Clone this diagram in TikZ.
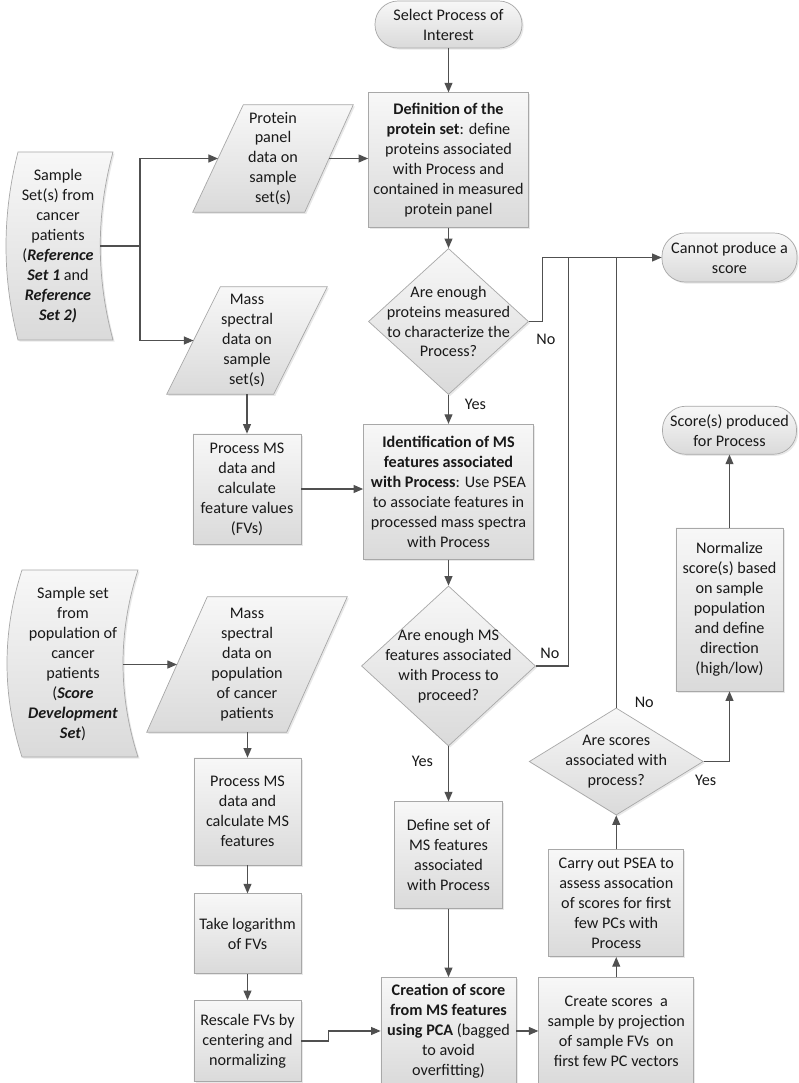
\documentclass[tikz,border=0pt]{standalone}
\usepackage{fontspec}
\setmainfont{Carlito}
\usepackage{xcolor}
\usepackage{tikz}
\usetikzlibrary{positioning,shapes.geometric,arrows.meta,calc,shadows,backgrounds}
\definecolor{trazo}{HTML}{505050}
\definecolor{borde}{HTML}{A8A8A8}
\definecolor{relleno}{HTML}{DADADA}
\tikzset{
  letra/.style    = {font=\fontsize{11.5}{14.2}\selectfont, text=black!90},
  forma/.style    = {draw=borde, line width=0.5pt, top color=black!3, bottom color=relleno,
                     drop shadow={shadow xshift=0.4mm, shadow yshift=-0.4mm, opacity=0.18}},
  bloque/.style   = {forma, letra, rectangle, align=center, inner sep=1pt,
                     minimum width=2.675cm, minimum height=2.675cm},
  terminal/.style = {forma, letra, rectangle, rounded corners=0.58cm, align=center, inner sep=1pt},
  decision/.style = {forma, diamond, inner sep=0pt},
  texto/.style    = {letra, align=center, inner sep=0pt},
  etiqueta/.style = {letra, inner sep=1pt},
  flecha/.style   = {draw=trazo, line width=0.8pt, -{Triangle[length=2.4mm, width=2mm]}},
  linea/.style    = {draw=trazo, line width=0.8pt}
}
\begin{document}
\begin{tikzpicture}[x=0.025cm, y=-0.025cm]
    \begin{scope}[on background layer]
      \fill[white] (0,0) rectangle (799,1083);
    \end{scope}
    \useasboundingbox (0,0) rectangle (799,1083);

    \node[terminal, minimum width=3.675cm, minimum height=1.175cm] (inicio) at (448.5,24.5) {Select Process of\\Interest};
    \node[bloque, minimum width=4cm, minimum height=3.375cm, below=1.1cm of inicio] (defprot) {\textbf{Definition of the}\\\textbf{protein set}: define\\proteins associated\\with Process and\\contained in measured\\protein panel};
    \node[decision, minimum width=4cm, minimum height=3.65cm, below=0.5cm of defprot] (dec1) {};
    \node[texto] (dec1t) at (dec1) {Are enough\\proteins measured\\to characterize the\\Process?};
    \node[bloque, minimum width=4.25cm, minimum height=3.375cm, below=0.725cm of dec1] (identms) {\textbf{Identification of MS}\\\textbf{features associated}\\\textbf{with Process}: Use PSEA\\to associate features in\\processed mass spectra\\with Process};
    \node[decision, minimum width=4.35cm, minimum height=4cm, below=0.65cm of identms] (dec2) {};
    \node[texto] (dec2t) at (dec2) {Are enough MS\\features associated\\with Process to\\proceed?};
    \node[bloque, minimum width=2.7cm, below=1.375cm of dec2] (defms) {Define set of\\MS features\\associated\\with Process};
    \node[bloque, minimum width=3.375cm, below=1.7cm of defms] (crea) {\textbf{Creation of score}\\\textbf{from MS features}\\\textbf{using PCA} (bagged\\to avoid\\overfitting)};
    \node[bloque, minimum width=3.875cm, right=0.55cm of crea] (proy) {Create scores~ a\\sample by projection\\of sample FVs~ on\\first few PC vectors};
    \node[bloque, minimum width=3.375cm, above=0.5cm of proy] (psea) {Carry out PSEA to\\assess assocation\\of scores for first\\few PCs with\\Process};
    \node[decision, minimum width=4.35cm, minimum height=2.675cm, above=0.85cm of psea] (dec3) {};
    \node[texto] (dec3t) at (dec3) {Are scores\\associated with\\process?};
    \node[bloque, minimum height=4.075cm] (normsc) at (729.5,609.5) {Normalize\\score(s) based\\on sample\\population\\and define\\direction\\(high/low)};
    \node[terminal, minimum width=3.35cm, minimum height=1.2cm, above=1.825cm of normsc] (produced) {Score(s) produced\\for Process};
    \node[terminal, minimum width=3.375cm, minimum height=1.225cm] (noscore) at (729.5,257.5) {Cannot produce a\\score};

    \node[texto] (muestras1) at (58,246) {Sample\\Set(s) from\\cancer\\patients\\(\textbf{\textit{Reference}}\\\textbf{\textit{Set 1}} and\\\textbf{\textit{Reference}}\\\textbf{\textit{Set 2)}}};
    \coordinate (salida1) at (100,246);
    \coordinate (rama1) at (140,246);
    \node[texto, minimum width=4cm, minimum height=2.675cm] (protdata) at (273,158.5) {Protein\\panel\\data on\\sample\\set(s)};
    \node[texto, minimum width=4cm, minimum height=2.675cm] (msdata) at (247,340.5) {Mass\\spectral\\data on\\sample\\set(s)};
    \node[bloque, minimum width=2.7cm, minimum height=2.75cm] (procms) at (247,489) {Process MS\\data and\\calculate\\feature values\\(FVs)};

    \node[texto] (muestras2) at (73,664) {Sample set\\from\\population of\\cancer\\patients\\(\textbf{\textit{Score}}\\\textbf{\textit{Development}}\\\textbf{\textit{Set}})};
    \coordinate (salida2) at (123,664.5);
    \node[texto, minimum width=5cm, minimum height=3.375cm] (mspop) at (247,664.5) {Mass\\spectral\\data on\\population\\of cancer\\patients};
    \node[bloque] (procfeat) at (247.5,811.5) {Process MS\\data and\\calculate MS\\features};
    \node[bloque, minimum height=2cm, below=0.7cm of procfeat] (logfv) {Take logarithm\\of FVs};
    \node[bloque, minimum height=2.025cm, below=0.65cm of logfv] (rescale) {Rescale FVs by\\centering and\\normalizing};

    \begin{scope}[on background layer]
      \draw[forma] (18,152) -- (113,152) .. controls (96,215) and (96,277) .. (113,340) -- (18,340) .. controls (2,277) and (2,215) .. (18,152) -- cycle;
      \draw[forma] (22,570) -- (138,570) .. controls (118,632) and (118,695) .. (138,757) -- (22,757) .. controls (2,695) and (2,632) .. (22,570) -- cycle;
      \draw[forma] (protdata.south west) -- ++(112,0) -- coordinate (protdata-r) (protdata.north east) -- ++(-110,0) -- coordinate (protdata-l) (protdata.south west) -- cycle;
      \draw[forma] (msdata.south west) -- ++(107,0) -- coordinate (msdata-r) (msdata.north east) -- ++(-107,0) -- coordinate (msdata-l) (msdata.south west) -- cycle;
      \draw[forma] (mspop.south west) -- ++(140,0) -- coordinate (mspop-r) (mspop.north east) -- ++(-140,0) -- coordinate (mspop-l) (mspop.south west) -- cycle;
    \end{scope}

    \draw[linea] (salida1) -- (rama1);
    \draw[flecha] (rama1) |- (protdata-l);
    \draw[flecha] (rama1) |- (msdata-l);
    \draw[flecha] (protdata-r) -- (protdata-r -| defprot.west);
    \draw[flecha] (procms.north |- msdata.south) -- (procms.north);
    \draw[flecha] (procms.east) -- (procms.east -| identms.west);
    \draw[flecha] (inicio.south) -- (defprot.north);
    \draw[flecha] (defprot.south) -- (dec1.north);
    \draw[flecha] (dec1.south) -- (identms.north);
    \draw[flecha] (dec1.east) -- ++(14,0) |- (noscore.west);
    \draw[flecha] (identms.south) -- (dec2.north);
    \draw[linea, shorten >=3mm] (dec2.east) -- ++(33,0) |- (noscore.west);
    \draw[flecha] (dec2.south) -- (defms.north);
    \draw[flecha] (defms.south) -- (crea.north);
    \draw[flecha] (crea.east) -- (proy.west);
    \draw[flecha] (proy.north) -- (psea.south);
    \draw[flecha] (psea.north) -- (dec3.south);
    \draw[linea, shorten >=3mm] (dec3.north) |- (noscore.west);
    \draw[flecha] (dec3.east) -| (normsc.south);
    \draw[flecha] (normsc.north) -- (produced.south);
    \draw[flecha] (salida2) -- (mspop-l);
    \draw[flecha] (procfeat.north |- mspop.south) -- (procfeat.north);
    \draw[flecha] (procfeat.south) -- (logfv.north);
    \draw[flecha] (logfv.south) -- (rescale.north);
    \draw[flecha] (rescale.east) -- ++(27,0) |- (crea.west);

    \node[etiqueta] (no1) at ($(dec1.east)+(17,18)$) {No};
    \node[etiqueta] (si1) at ($(dec1.south)+(27,10)$) {Yes};
    \node[etiqueta] (no2) at ($(dec2.east)+(14,-13)$) {No};
    \node[etiqueta] (si2) at ($(dec2.south)+(-26,15)$) {Yes};
    \node[etiqueta] (no3) at ($(dec3.north)+(28,-5)$) {No};
    \node[etiqueta] (si3) at ($(dec3.east)+(2,18.5)$) {Yes};
  \end{tikzpicture}
\end{document}
